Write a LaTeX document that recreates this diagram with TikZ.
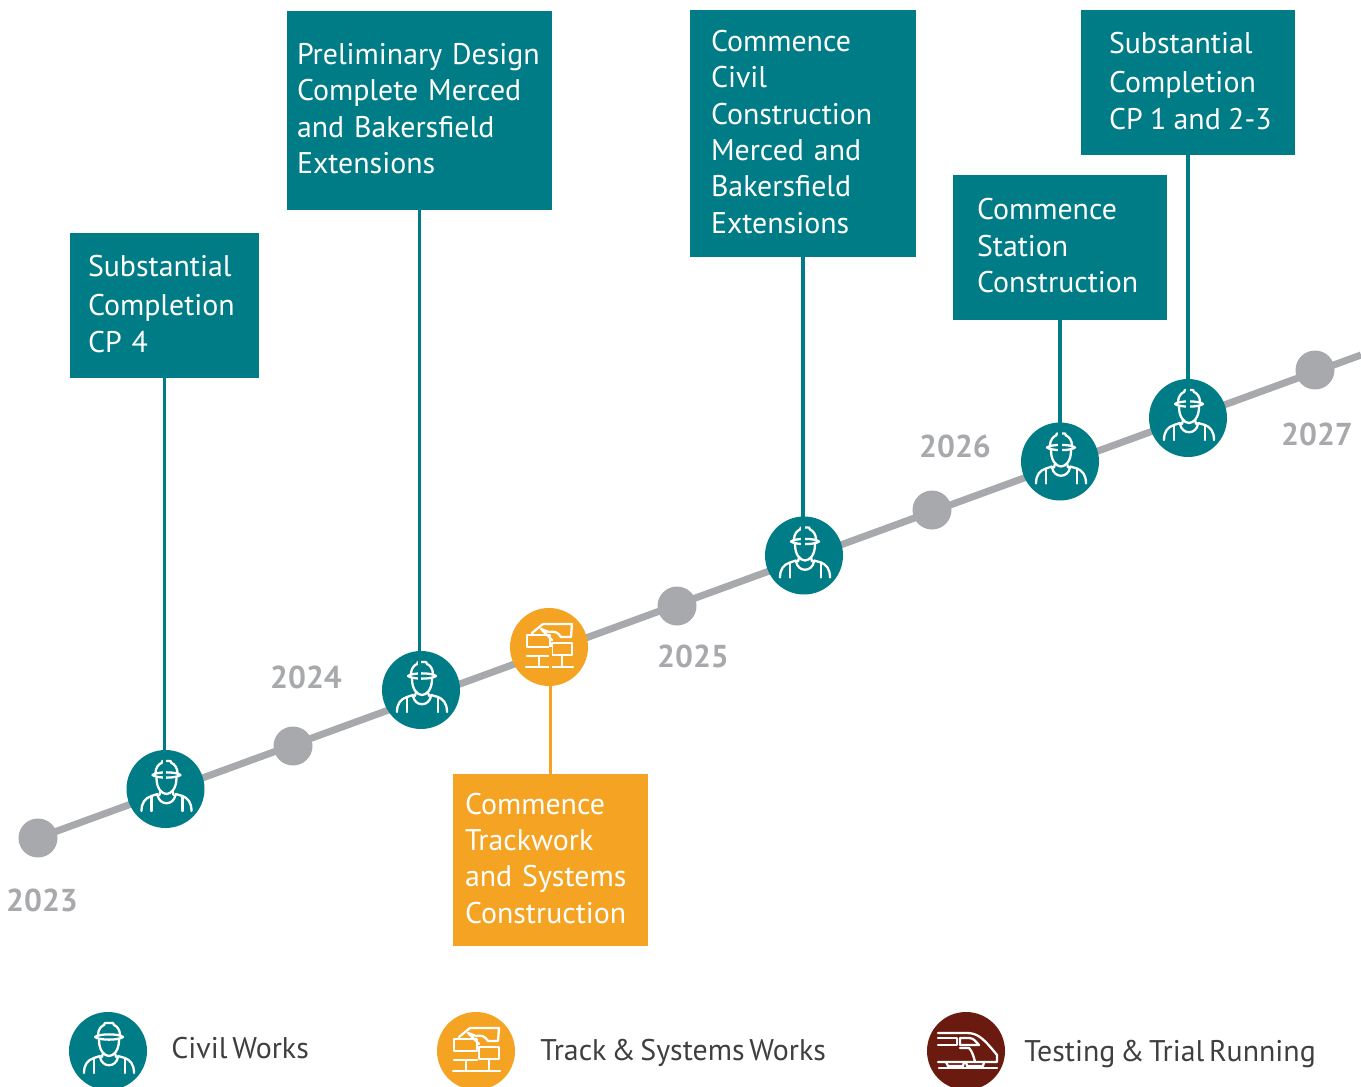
\documentclass[tikz,border=0pt]{standalone}
\usepackage{fontspec}
\setmainfont[WordSpace=0.6]{PT Sans}
\usepackage{tikz}
\usetikzlibrary{backgrounds}
\definecolor{civilteal}{HTML}{007C87}
\definecolor{trackorange}{HTML}{F4A322}
\definecolor{testmaroon}{HTML}{6A1A0E}
\definecolor{dotgray}{HTML}{A7A9AC}
\definecolor{legendtext}{HTML}{3F3F3F}
\tikzset{
	iconline/.style={white,line width=1.3pt,line join=round,line cap=round},
	yeardot/.style={circle,fill=dotgray,minimum size=39*0.02cm,inner sep=0pt},
	yearlabel/.style={text=dotgray,font=\fontsize{18}{20}\selectfont\bfseries},
	iconball/.style={circle,fill=#1,minimum size=78*0.02cm,inner sep=0pt},
	mstone/.style n args={3}{fill=#1,text=white,anchor=center,align=left,inner ysep=0pt,
		text width=#2*0.02cm,inner xsep=0pt,minimum height=#3*0.02cm,
		font=\fontsize{17}{20.7}\selectfont,execute at end node={\par\vspace{2pt}}},
	legendlabel/.style={text=legendtext,anchor=west,inner sep=0pt,text height=12pt,text depth=4pt,font=\fontsize{17}{20}\selectfont},
	worker/.pic={
		% helmet
		\draw[iconline] (-13,-14) .. controls (-9,-17.5) and (11,-17.5) .. (15,-14) .. controls (11,-10.5) and (-9,-10.5) .. cycle;
		\draw[iconline] (-10,-16) .. controls (-10,-21) and (-7,-25) .. (-4,-26) -- (-3,-28) -- (5,-28) -- (6,-26) .. controls (9,-25) and (12,-21) .. (12,-16);
		% face
		\draw[iconline] (-9,-11) .. controls (-9,-1) and (-4,5) .. (1,5) .. controls (6,5) and (11,-1) .. (11,-11);
		\draw[iconline] (-5,2) -- (-6,6) (7,2) -- (8,6);
		% body
		\draw[iconline] (-24,22) .. controls (-24,13) and (-20,9) .. (-14,7) -- (-8,5);
		\draw[iconline] (26,22) .. controls (26,13) and (22,9) .. (17,7) -- (10,5);
		\draw[iconline] (-8,6) .. controls (-6,17) and (8,17) .. (10,6);
		\draw[iconline] (-14,7) -- (-14,22) (17,7) -- (17,22);
	},
	bricks/.pic={
		\draw[iconline] (-22,-12) rectangle (1,0);
		\draw[iconline] (3,-4) rectangle (23,8);
		\draw[iconline] (-22,9) -- (1,9) (-23,20) -- (24,20);
		\draw[iconline] (-10,9) -- (-10,20) (13,9) -- (13,20);
		\draw[iconline] (-17,-14) -- (-6,-23) -- (23,-23) -- (22,-10) -- (12,-10) .. controls (9,-15) and (5,-16) .. (0,-15) -- (-8,-18) -- (-3,-13) -- (3,-7);
	},
	trainicon/.pic={
		\draw[iconline] (-28,-18) -- (1,-18) .. controls (12,-18) and (18,-12) .. (31,4) -- (31,11) -- (-28,11);
		\draw[iconline] (-28,-13) -- (-9,-13) -- (-9,-6) -- (-28,-6);
		\draw[iconline] (-6,-13) -- (3,-13) .. controls (8,-13) and (10,-9) .. (13,-6) -- (-6,-6) -- cycle;
		\draw[iconline] (-6,-3) -- (3,-3) .. controls (6,0) and (8,6) .. (9,11);
		\draw[iconline] (-27,17) -- (31,17);
		\draw[iconline] (-20,11) -- (-18,15) -- (-3,15) -- (-2,11) (0,11) -- (1,15) -- (17,15) -- (18,11);
	},
}
\begin{document}
\begin{tikzpicture}[x=0.02cm,y=-0.02cm]
	\useasboundingbox (0,0) rectangle (1361,1087);
	\clip (0,0) rectangle (1361,1087);
	% years
	\node[yeardot] (dot2023) at (38,838) {};
	\node[yeardot] (dot2024) at (293,746) {};
	\node[yeardot] (dot2025) at (677,606) {};
	\node[yeardot] (dot2026) at (932,510) {};
	\node[yeardot] (dot2027) at (1315,370) {};
	\coordinate (lineend) at (1361,355);
	\begin{scope}[on background layer]
		\draw[dotgray,line width=4pt] (dot2023.center) -- (lineend);
	\end{scope}
	\node[yearlabel] (year2023) at (42,900) {2023};
	\node[yearlabel] (year2024) at (306,677) {2024};
	\node[yearlabel] (year2025) at (693,656) {2025};
	\node[yearlabel] (year2026) at (955,446) {2026};
	\node[yearlabel] (year2027) at (1317,434) {2027};
	% milestones
	\node[iconball=civilteal] (civil1) at (165.5,789) {};
	\node[iconball=civilteal] (civil2) at (421,690) {};
	\node[iconball=trackorange] (track1) at (549,647) {};
	\node[iconball=civilteal] (civil3) at (804,555.5) {};
	\node[iconball=civilteal] (civil4) at (1060,461.5) {};
	\node[iconball=civilteal] (civil5) at (1188,418) {};
	\pic at (civil1) {worker};
	\pic at (civil2) {worker};
	\pic at (track1) {bricks};
	\pic at (civil3) {worker};
	\pic at (civil4) {worker};
	\pic at (civil5) {worker};
	\node[mstone={civilteal}{153}{145},minimum width=189*0.02cm] (box1) at (164.5,305.5) {\vspace*{2pt}Substantial\\Completion\\CP 4};
	\node[mstone={civilteal}{245}{199},minimum width=265*0.02cm] (box2) at (419.5,110.5) {Preliminary Design\\Complete Merced\\and Bakersfield\\Extensions};
	\node[mstone={civilteal}{184}{247},minimum width=226*0.02cm] (box3) at (803,133.5) {Commence\\Civil\\Construction\\Merced and\\Bakersfield\\Extensions};
	\node[mstone={civilteal}{166}{145},minimum width=214*0.02cm] (box4) at (1060,247.5) {Commence\\Station\\Construction};
	\node[mstone={civilteal}{158}{145},minimum width=214*0.02cm] (box5) at (1188,82.5) {\vspace*{2pt}Substantial\\Completion\\\mbox{CP\hspace{-1.5pt} 1\hspace{-1.5pt} and\hspace{-1.5pt} 2-3}};
	\node[mstone={trackorange}{171}{172},minimum width=195*0.02cm] (box6) at (550.5,860) {Commence\\Trackwork\\and Systems\\Construction};
	\draw[civilteal,line width=2pt] (box1.south) -- (box1.south |- civil1.center);
	\draw[civilteal,line width=2pt] (box2.south) -- (box2.south |- civil2.center);
	\draw[civilteal,line width=2pt] (box3.south) -- (box3.south |- civil3.center);
	\draw[civilteal,line width=2pt] (box4.south) -- (box4.south |- civil4.center);
	\draw[civilteal,line width=2pt] (box5.south) -- (box5.south |- civil5.center);
	\draw[trackorange,line width=2pt] (box6.north) -- (box6.north |- track1.center);
	% legend
	\node[iconball=civilteal] (keycivil) at (108,1051) {};
	\node[iconball=trackorange] (keytrack) at (476,1051) {};
	\node[iconball=testmaroon] (keytest) at (966,1051) {};
	\pic at (keycivil) {worker};
	\pic at (keytrack) {bricks};
	\pic at (keytest) {trainicon};
	\node[legendlabel] (textcivil) at (171,1051) {Civil Works};
	\node[legendlabel] (texttrack) at (540,1053) {Track \& Systems Works};
	\node[legendlabel] (texttest) at (1024,1054) {Testing \& Trial Running};
\end{tikzpicture}
\end{document}
